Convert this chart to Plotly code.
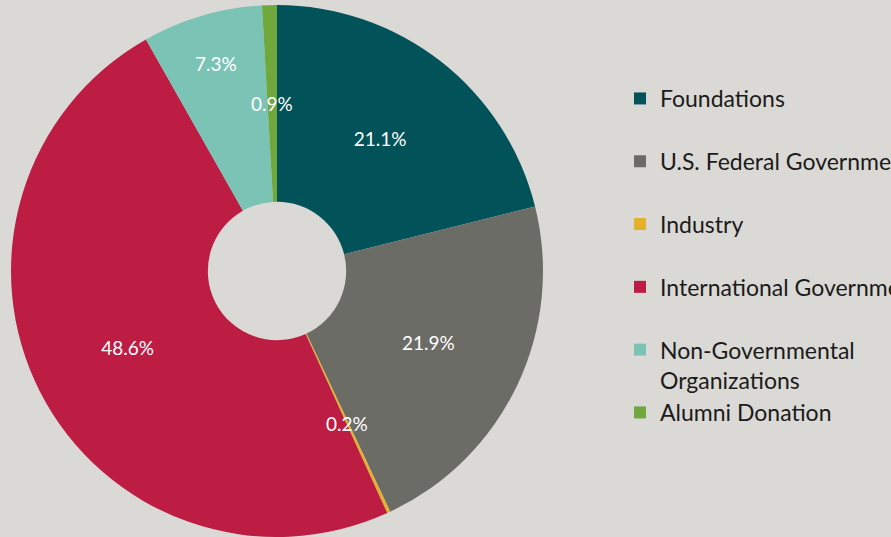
import math
import plotly.graph_objects as go

labels = [
    "Foundations",
    "U.S. Federal Government",
    "Industry",
    "International Government",
    "Non-Governmental<br>Organizations",
    "Alumni Donation",
]
shares = [21.1, 21.9, 0.2, 48.6, 7.3, 0.9]
colors = ["#02525a", "#6c6c67", "#e2b22c", "#bd1c43", "#7bc4b5", "#70a83e"]

W, H = 891, 537
HOLE = 0.26
# pie box in pixels (left, right, top, bottom)
px_l, px_r, px_t, px_b = 11, 543, 5, 537

# one-line labels get an empty second line so every legend entry is two lines tall
legend_labels = [l if "<br>" in l else l + "<br> " for l in labels]

# tiny slices: plotly would push their labels to the rim, so they are placed
# as annotations at the middle of the ring instead
small = [v < 2 for v in shares]
slice_text = ["" if s else f"{v}%" for v, s in zip(shares, small)]

label_font = dict(color="white", size=19, family="Lato")

fig = go.Figure(go.Pie(
    labels=legend_labels,
    values=shares,
    sort=False,
    direction="clockwise",
    rotation=0,
    hole=HOLE,
    marker=dict(colors=colors, line=dict(width=0)),
    text=slice_text,
    textinfo="text",
    textposition="inside",
    insidetextorientation="horizontal",
    textfont=label_font,
    hoverinfo="label+percent",
    domain=dict(x=[px_l / W, px_r / W], y=[(H - px_b) / H, (H - px_t) / H]),
))

cx = (px_l + px_r) / 2 / W
cy = (H - (px_t + px_b) / 2) / H
r_px = (px_r - px_l) / 2 * (1 + HOLE) / 2
total = sum(shares)
cum = 0
for v, s in zip(shares, small):
    mid = (cum + v / 2) / total * 2 * math.pi
    cum += v
    if not s:
        continue
    fig.add_annotation(
        x=cx + r_px * math.sin(mid) / W,
        y=cy + r_px * math.cos(mid) / H,
        xref="paper", yref="paper",
        xanchor="center", yanchor="middle",
        text=f"{v}%", showarrow=False,
        font=label_font,
    )

fig.update_layout(
    width=W,
    height=H,
    margin=dict(l=0, r=0, t=0, b=0, autoexpand=False),
    paper_bgcolor="#dad9d5",
    plot_bgcolor="#dad9d5",
    font=dict(family="Lato", color="#1b1b1b"),
    legend=dict(
        x=620 / W, xanchor="left",
        y=1 - 77 / H, yanchor="top",
        font=dict(size=23, family="Lato", color="#1b1b1b"),
        valign="top",
        bgcolor="rgba(0,0,0,0)",
    ),
)

fig.write_html(
    "out.html",
    config={"displayModeBar": False},
    post_script="document.body.style.margin='0';document.body.style.background='#dad9d5';",
)
